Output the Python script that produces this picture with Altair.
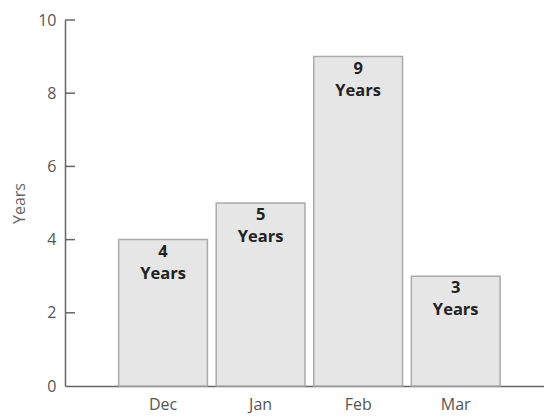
import altair as alt
import pandas as pd

months = ["Dec", "Jan", "Feb", "Mar"]
years = [4, 5, 9, 3]
y_ticks = [2, 4, 6, 8, 10]

df = pd.DataFrame({"month": months, "years": years})
df["label"] = [[str(v), "Years"] for v in years]
ticks_df = pd.DataFrame({"t": y_ticks})

FONT = "Open Sans"

x = alt.X("month:N", sort=months, title=None,
          scale=alt.Scale(paddingInner=0.09, paddingOuter=0.5, align=0.55),
          axis=alt.Axis(labelFont=FONT, labelFontSize=16, labelColor="#555555",
                        labelAngle=0, ticks=False, domainColor="#666666",
                        domainWidth=1.5, labelPadding=10))
y = alt.Y("years:Q", title="Years",
          scale=alt.Scale(domain=[0, 10], nice=False),
          axis=alt.Axis(values=[0, 2, 4, 6, 8, 10], grid=False, ticks=False,
                        labelFont=FONT, labelFontSize=16, labelColor="#555555",
                        labelPadding=9, domainColor="#666666", domainWidth=1.5,
                        titleFont=FONT, titleFontSize=16, titleColor="#666666",
                        titleFontWeight="normal", titlePadding=10))

bars = alt.Chart(df).mark_bar(fill="#e6e6e6", stroke="#aaaaaa", strokeWidth=1.5).encode(x=x, y=y)

labels = alt.Chart(df).mark_text(baseline="top", dy=4, font=FONT, fontSize=16.5,
                                 fontWeight="bold", color="#222222", lineHeight=22).encode(
    x=alt.X("month:N", sort=months), y="years:Q", text="label")

tick_marks = alt.Chart(ticks_df).mark_rule(color="#666666", strokeWidth=1.5).encode(
    y=alt.Y("t:Q"), x=alt.value(0), x2=alt.value(10))

chart = alt.layer(bars, labels, tick_marks).properties(
    width=479, height=366,
    padding={"left": 65, "top": 20, "right": 0, "bottom": 32},
    autosize=alt.AutoSizeParams(type="none"),
).configure_view(stroke=None)

chart.save("out.html", embed_options={"renderer": "svg", "actions": False})
